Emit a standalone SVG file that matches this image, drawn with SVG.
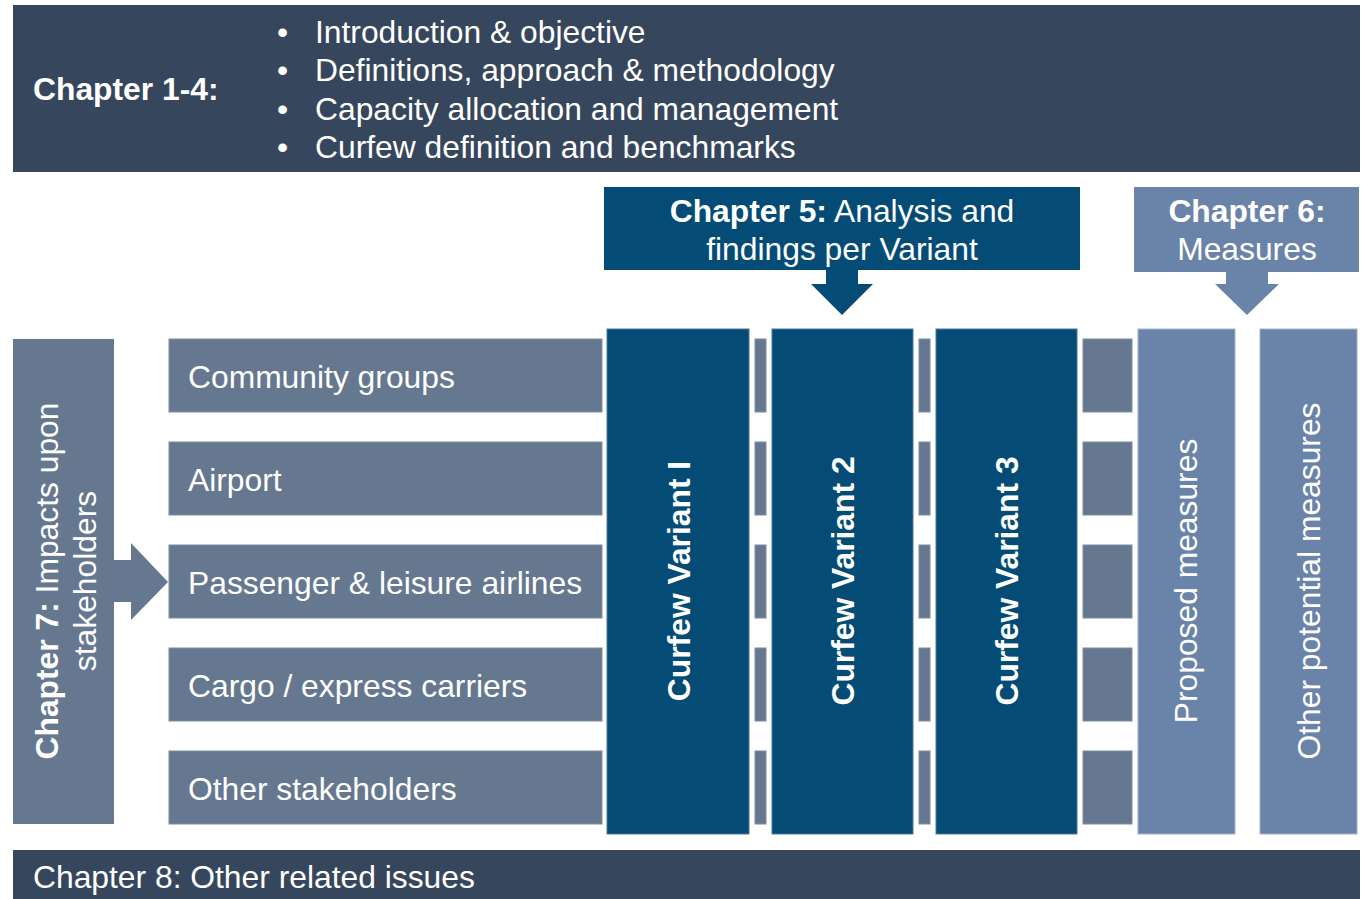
<svg xmlns="http://www.w3.org/2000/svg" width="1369" height="899" viewBox="0 0 1369 899">
<style>
text{font-family:"Liberation Sans",Arial,sans-serif;fill:#ffffff;font-size:31.8px}
.b{font-weight:bold}
.hdr{fill:#36465c}
.dk{fill:#044c75;stroke:#4f7898;stroke-width:1}
.ms{fill:#6a84a9;stroke:#9fb2ca;stroke-width:1}
.gr{fill:#657890;stroke:#7d8ea1;stroke-width:1}
.mid{text-anchor:middle}
</style>
<rect width="1369" height="899" fill="#ffffff"/>
<g id="chapter1-4">
<rect class="hdr" x="13" y="5" width="1347" height="167"/>
<text class="b" x="33" y="100">Chapter 1-4:</text>
<text x="277" y="43">•</text><text x="315" y="43">Introduction &amp; objective</text>
<text x="277" y="81">•</text><text x="315" y="81">Definitions, approach &amp; methodology</text>
<text x="277" y="120">•</text><text x="315" y="120">Capacity allocation and management</text>
<text x="277" y="158">•</text><text x="315" y="158">Curfew definition and benchmarks</text>
</g>
<g id="chapter5">
<rect x="604" y="187" width="476" height="83" fill="#044c75"/>
<text class="mid" x="842" y="222"><tspan class="b">Chapter 5:</tspan> Analysis and</text>
<text class="mid" x="842" y="260">findings per Variant</text>
</g>
<g id="chapter6">
<rect x="1134" y="187" width="225" height="85" fill="#6a84a9"/>
<text class="mid b" x="1247" y="222">Chapter 6:</text>
<text class="mid" x="1247" y="260">Measures</text>
</g>
<g id="chapter7">
<rect x="13" y="339" width="101" height="485" fill="#657890"/>
<g transform="translate(58,581) rotate(-90)">
<text class="mid" x="0" y="0"><tspan class="b">Chapter 7:</tspan> Impacts upon</text>
<text class="mid" x="0" y="38">stakeholders</text>
</g>
</g>
<g id="stakeholders">
<g id="row-community"><rect class="gr" x="169" y="339" width="433" height="73"/><text x="188" y="388">Community groups</text></g>
<g id="row-airport"><rect class="gr" x="169" y="442" width="433" height="73"/><text x="188" y="491">Airport</text></g>
<g id="row-passenger"><rect class="gr" x="169" y="545" width="433" height="73"/><text x="188" y="594">Passenger &amp; leisure airlines</text></g>
<g id="row-cargo"><rect class="gr" x="169" y="648" width="433" height="73"/><text x="188" y="697">Cargo / express carriers</text></g>
<g id="row-other"><rect class="gr" x="169" y="751" width="433" height="73"/><text x="188" y="800">Other stakeholders</text></g>
</g>
<g id="row-segments">
<rect class="gr" x="755" y="339" width="11" height="73"/><rect class="gr" x="919" y="339" width="11" height="73"/><rect class="gr" x="1083" y="339" width="49" height="73"/>
<rect class="gr" x="755" y="442" width="11" height="73"/><rect class="gr" x="919" y="442" width="11" height="73"/><rect class="gr" x="1083" y="442" width="49" height="73"/>
<rect class="gr" x="755" y="545" width="11" height="73"/><rect class="gr" x="919" y="545" width="11" height="73"/><rect class="gr" x="1083" y="545" width="49" height="73"/>
<rect class="gr" x="755" y="648" width="11" height="73"/><rect class="gr" x="919" y="648" width="11" height="73"/><rect class="gr" x="1083" y="648" width="49" height="73"/>
<rect class="gr" x="755" y="751" width="11" height="73"/><rect class="gr" x="919" y="751" width="11" height="73"/><rect class="gr" x="1083" y="751" width="49" height="73"/>
</g>
<g id="variant1"><rect class="dk" x="607" y="329" width="142" height="505"/><text class="mid b" transform="translate(690,581) rotate(-90)">Curfew Variant I</text></g>
<g id="variant2"><rect class="dk" x="772" y="329" width="141" height="505"/><text class="mid b" transform="translate(854,581) rotate(-90)">Curfew Variant 2</text></g>
<g id="variant3"><rect class="dk" x="936" y="329" width="141" height="505"/><text class="mid b" transform="translate(1018,581) rotate(-90)">Curfew Variant 3</text></g>
<g id="proposed"><rect class="ms" x="1138" y="329" width="97" height="505"/><text class="mid" transform="translate(1197,581) rotate(-90)">Proposed measures</text></g>
<g id="other-measures"><rect class="ms" x="1260" y="329" width="97" height="505"/><text class="mid" transform="translate(1320,581) rotate(-90)">Other potential measures</text></g>
<g id="chapter8">
<rect class="hdr" x="13" y="850" width="1347" height="49"/>
<text x="33" y="888">Chapter 8: Other related issues</text>
</g>
<g id="connectors">
<polygon points="826,270 858,270 858,284 873,284 842,315 811,284 826,284" fill="#044c75"/>
<polygon points="1226,272 1268,272 1268,284 1279,284 1247,315 1215,284 1226,284" fill="#6a84a9"/>
<polygon points="114,560 131,560 131,543 168,582 131,620 131,602 114,602" fill="#657890"/>
</g>
</svg>
